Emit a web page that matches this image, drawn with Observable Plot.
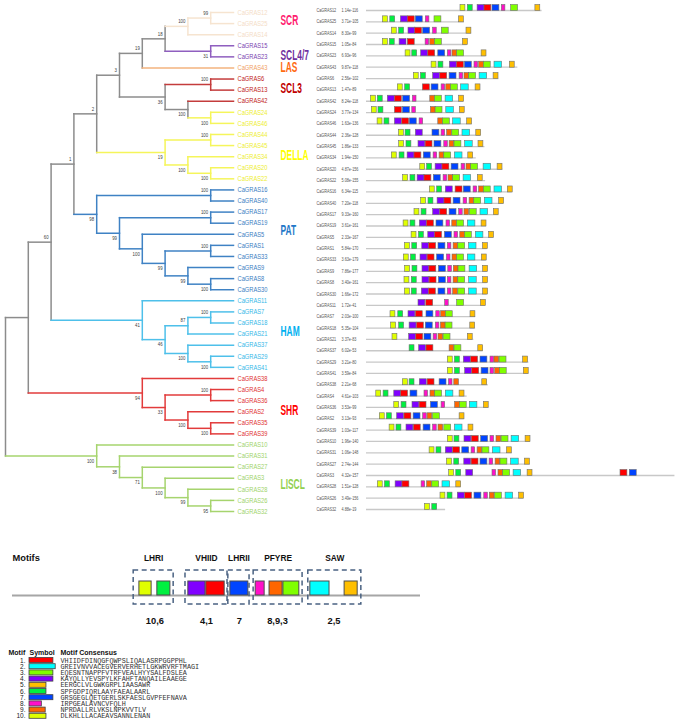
<!DOCTYPE html>
<html><head><meta charset="utf-8">
<script src="https://cdn.jsdelivr.net/npm/d3@7"></script>
<script src="https://cdn.jsdelivr.net/npm/@observablehq/plot@0.6"></script>
<style>
body{margin:0;background:#fff;}
#chart{position:relative;width:676px;height:725px;overflow:hidden;background:#fff;}
#chart svg{position:absolute;left:0;top:0;}
</style></head><body><div id="chart"></div>
<script>
// ---------------- DATA ----------------
// Tree (cladogram) with bootstrap values as internal node labels
const subSCL = "((((CaGRAS12,CaGRAS25)99,CaGRAS14)100,(CaGRAS15,CaGRAS23)31)18,CaGRAS43)19";
const subSCL3 = "((CaGRAS6,CaGRAS13)100,(CaGRAS42,(CaGRAS24,CaGRAS46)100)100)36";
const subDELLA = "((CaGRAS44,CaGRAS45)100,(CaGRAS34,(CaGRAS20,CaGRAS22)100)100)19";
const subPAT = "((CaGRAS16,CaGRAS40)100,((CaGRAS17,CaGRAS19)100,(CaGRAS5,((CaGRAS1,CaGRAS33)100,(CaGRAS9,(CaGRAS8,CaGRAS30)100)99)99)100)99)98";
const subHAM = "(CaGRAS11,(((CaGRAS7,CaGRAS18)100,CaGRAS21)87,(CaGRAS37,(CaGRAS29,CaGRAS41)100)100)46)41";
const subSHR = "(CaGRAS38,((CaGRAS4,CaGRAS36)100,(CaGRAS2,(CaGRAS35,CaGRAS39)100)100)33)94";
const subLISCL = "(CaGRAS10,(CaGRAS31,(CaGRAS27,(CaGRAS3,(CaGRAS28,(CaGRAS26,CaGRAS32)95)99)100)71)38)100";
const newick = `((((((${subSCL},${subSCL3})3,${subDELLA})2,${subPAT})1,${subHAM})60,${subSHR}),${subLISCL});`;

const cladeNames = ["SCR","SCL4/7","LAS","SCL3","DELLA","PAT","HAM","SHR","LISCL"];
const cladeMembers = [
  ["CaGRAS12","CaGRAS25","CaGRAS14"],
  ["CaGRAS15","CaGRAS23"],
  ["CaGRAS43"],
  ["CaGRAS6","CaGRAS13","CaGRAS42"],
  ["CaGRAS24","CaGRAS46","CaGRAS44","CaGRAS45","CaGRAS34","CaGRAS20","CaGRAS22"],
  ["CaGRAS16","CaGRAS40","CaGRAS17","CaGRAS19","CaGRAS5","CaGRAS1","CaGRAS33","CaGRAS9","CaGRAS8","CaGRAS30"],
  ["CaGRAS11","CaGRAS7","CaGRAS18","CaGRAS21","CaGRAS37","CaGRAS29","CaGRAS41"],
  ["CaGRAS38","CaGRAS4","CaGRAS36","CaGRAS2","CaGRAS35","CaGRAS39"],
  ["CaGRAS10","CaGRAS31","CaGRAS27","CaGRAS3","CaGRAS28","CaGRAS26","CaGRAS32"]
];
const cladeLabelRow = [0.72, 3.88, 4.96, 6.85, 12.9, 19.66, 28.76, 35.9, 42.56];

// Motif map
const proteinNames = ["CaGRAS12","CaGRAS25","CaGRAS14","CaGRAS15","CaGRAS23","CaGRAS43","CaGRAS6","CaGRAS13","CaGRAS42","CaGRAS24","CaGRAS46","CaGRAS44","CaGRAS45","CaGRAS34","CaGRAS20","CaGRAS22","CaGRAS16","CaGRAS40","CaGRAS17","CaGRAS19","CaGRAS5","CaGRAS1","CaGRAS33","CaGRAS9","CaGRAS8","CaGRAS30","CaGRAS11","CaGRAS7","CaGRAS18","CaGRAS21","CaGRAS37","CaGRAS29","CaGRAS41","CaGRAS38","CaGRAS4","CaGRAS36","CaGRAS2","CaGRAS39","CaGRAS10","CaGRAS31","CaGRAS27","CaGRAS3","CaGRAS28","CaGRAS26","CaGRAS32"];
const proteinEvalues = ["1.14e-116","3.71e-105","8.30e-99","1.05e-84","6.93e-96","9.87e-118","2.56e-102","1.47e-89","8.24e-118","3.77e-134","1.63e-136","2.36e-128","1.86e-133","1.94e-150","4.87e-156","5.08e-155","6.34e-115","7.20e-118","9.33e-160","3.61e-161","2.33e-167","5.84e-170","3.63e-179","7.86e-177","3.40e-161","1.66e-172","1.72e-41","2.03e-100","5.35e-104","3.37e-83","6.02e-53","3.21e-80","3.59e-84","2.21e-68","4.61e-103","3.53e-99","3.13e-93","1.03e-117","1.96e-140","1.06e-148","2.74e-144","4.32e-157","1.51e-128","3.49e-156","4.88e-19"];
const proteinLengths = [790,441,473,453,538,681,596,510,438,441,476,516,533,494,614,536,656,618,596,540,573,543,539,543,543,543,536,491,491,483,525,731,731,548,453,551,440,480,738,656,738,1388,426,708,356];
const motifHits = [
  [[10,423],[6,456],[4,500],[1,531],[7,567],[8,609],[3,651],[5,760]],
  [[10,74],[6,107],[4,155],[1,186],[7,222],[8,267],[3,306],[5,416]],
  [[10,114],[6,147],[4,189],[1,219],[7,255],[8,300],[3,339],[5,450]],
  [[10,74],[6,105],[4,149],[1,186],[8,266],[9,287],[3,308],[5,434]],
  [[10,176],[6,206],[4,246],[1,278],[7,323],[8,366],[9,387],[3,408],[5,518]],
  [[10,293],[6,324],[4,375],[1,407],[7,443],[8,486],[9,507],[3,528],[2,576],[5,645]],
  [[10,213],[6,245],[4,300],[1,332],[7,374],[8,419],[9,441],[3,462],[2,509],[5,572]],
  [[10,141],[6,174],[1,254],[7,293],[8,338],[9,359],[3,380],[2,426],[5,491]],
  [[10,20],[6,51],[4,96],[1,128],[7,165],[8,209],[9,287],[3,308],[2,356],[5,417]],
  [[10,24],[6,54],[1,128],[7,164],[8,206],[9,290],[3,311],[2,359],[5,420]],
  [[10,50],[6,81],[4,128],[1,161],[7,195],[8,239],[9,323],[3,344],[2,390],[5,453]],
  [[10,146],[6,176],[4,222],[7,297],[8,338],[9,363],[3,386],[2,432],[5,494]],
  [[10,147],[6,180],[4,234],[1,266],[7,306],[8,350],[9,374],[3,396],[2,444],[5,504]],
  [[10,114],[6,149],[4,185],[1,216],[7,258],[8,302],[9,329],[3,350],[2,398],[5,458]],
  [[10,242],[6,273],[4,311],[1,342],[7,383],[8,428],[9,450],[3,471],[2,527],[5,590]],
  [[10,165],[6,198],[4,230],[1,261],[7,303],[8,347],[9,369],[3,390],[2,437],[5,501]],
  [[10,285],[6,318],[4,357],[1,401],[7,438],[8,482],[9,507],[3,528],[2,576],[5,636]],
  [[10,246],[6,279],[4,320],[1,351],[7,392],[8,437],[9,464],[3,485],[2,533],[5,597]],
  [[10,216],[6,248],[4,300],[1,332],[7,374],[8,417],[9,441],[3,465],[2,513],[5,573]],
  [[10,167],[6,198],[4,240],[1,272],[7,315],[8,360],[9,386],[3,408],[2,456],[5,518]],
  [[10,203],[6,236],[4,278],[1,309],[7,353],[8,396],[9,422],[3,443],[2,492],[5,552]],
  [[10,173],[6,206],[4,251],[1,282],[7,324],[8,366],[9,392],[3,413],[2,461],[5,524]],
  [[10,168],[6,200],[4,243],[1,275],[7,318],[8,362],[9,387],[3,408],[2,456],[5,519]],
  [[10,174],[6,207],[4,252],[1,283],[7,326],[8,368],[9,393],[3,414],[2,464],[5,525]],
  [[10,171],[6,204],[4,252],[1,284],[7,326],[8,366],[9,392],[3,413],[2,462],[5,525]],
  [[10,173],[6,204],[4,249],[1,281],[7,324],[8,366],[9,390],[3,413],[2,462],[5,525]],
  [[4,234],[1,269],[8,354],[3,408],[5,515]],
  [[10,108],[6,143],[4,189],[1,222],[7,270],[8,314],[9,336],[3,357],[5,468]],
  [[10,111],[6,147],[4,194],[1,227],[7,267],[8,312],[9,335],[3,356],[5,467]],
  [[10,117],[4,192],[1,224],[7,261],[8,302],[9,324],[3,347],[5,456]],
  [[6,194],[4,237],[1,270],[9,374],[3,396],[5,503]],
  [[10,366],[6,398],[4,438],[1,471],[7,513],[8,558],[9,576],[3,599],[5,705]],
  [[10,366],[6,398],[4,444],[1,476],[7,518],[8,558],[9,579],[3,600],[5,708]],
  [[10,164],[6,194],[4,240],[1,275],[7,329],[8,371],[9,395],[5,521]],
  [[10,44],[6,77],[4,125],[1,156],[7,198],[8,261],[9,288],[3,309],[2,357],[5,419]],
  [[10,125],[6,158],[4,207],[1,239],[7,290],[8,338],[9,399],[3,420],[2,465],[5,528]],
  [[10,60],[6,92],[4,138],[1,171],[7,212],[8,255],[9,275],[3,299],[5,419]],
  [[10,104],[6,135],[4,180],[1,213],[7,257],[8,300],[9,324],[3,350],[2,398],[5,459]],
  [[10,366],[6,396],[4,441],[1,474],[7,516],[8,558],[9,585],[3,608],[2,653],[5,716]],
  [[10,284],[6,315],[4,357],[1,390],[7,431],[8,473],[9,500],[3,522],[2,569],[5,632]],
  [[10,362],[6,395],[4,440],[1,473],[7,513],[8,554],[9,581],[3,603],[2,651],[5,713]],
  [[10,372],[6,404],[4,449],[8,567],[9,594],[3,615],[2,662],[5,725],[1,1143],[7,1185]],
  [[10,51],[6,83],[4,131],[1,162],[8,248],[9,273],[3,296],[2,342],[5,404]],
  [[10,333],[6,365],[4,411],[1,444],[7,486],[8,530],[9,555],[3,578],[2,626],[5,687]],
  [[10,263],[6,296]]
];

// Motif legend
const motifIds = [1,2,3,4,5,6,7,8,9,10];
const motifConsensus = [
  "VHIIDFDINQGFQWPSLIQALASRPGGPPHL",
  "GREIVNVVACEGVERVERHETLGKWRVRFTMAGI",
  "EQESNTNAPPFVTRFVEALHYYSALFDSLEA",
  "KAYQLLYEVSPYLKFAHFTANQAILEAAEGE",
  "EERGCLVLGWKGRPLIAASAWR",
  "SPFGDPIQRLAAYFAEALAARL",
  "GRSGEGLQETGERLSKFAESLGVPFEFNAVA",
  "IRPGEALAVNCVFQLH",
  "NPRDALLRLVKSLNPKVVTLV",
  "DLKHLLLACAEAVSANNLENAN"
];

// Motif schematic (relative position along a generic GRAS protein, 0-100)
const schemeOrder = [10,6,4,1,7,8,9,3,2,5];
const schemeStart = [31.1,35.5,43.1,47.5,53.4,59.6,63.0,66.4,73.0,81.4];
const schemeEnd   = [34.1,38.7,47.3,52.0,57.8,61.8,66.2,70.3,77.7,84.6];
const domainNames  = ["LHRI","VHIID","LHRII","PFYRE","SAW"];
const domainMotifs = [[10,6],[4,1],[7],[8,9,3],[2,5]];
const domainStart  = [29.7,42.4,52.9,59.1,72.5];
const domainEnd    = [39.5,52.7,58.1,71.1,85.5];

// ---------------- STYLE ----------------
const motifColors = ["#ff0000","#00ffff","#80ff00","#8000ff","#ffbf00","#00f040","#0044ff","#ff10c8","#ff6600","#e0ff00"];
const cladeLabelColor = {"SCR":"#ff2070","SCL4/7":"#7030a0","LAS":"#ff6a10","SCL3":"#c00000","DELLA":"#ffff00","PAT":"#1f78c8","HAM":"#00b0f0","SHR":"#ff0000","LISCL":"#92d050"};
const cladeLeafColor  = {"SCR":"#f4dcc6","SCL4/7":"#7a3fb0","LAS":"#f0a064","SCL3":"#c01818","DELLA":"#eeee30","PAT":"#3a7ec2","HAM":"#35b8e8","SHR":"#e03030","LISCL":"#9ed36a"};
const cladeBranchColor= {"SCR":"#f6e4d0","SCL4/7":"#8f5fbf","LAS":"#f3b37e","SCL3":"#c43c3c","DELLA":"#f5f55a","PAT":"#3f82c4","HAM":"#4ec0ea","SHR":"#e23b3b","LISCL":"#a6d46e"};
const GRAY = "#8c8c8c";
const SANS = "Liberation Sans, Arial, sans-serif";

// ---------------- TREE LAYOUT ----------------
function parseNewick(s) {
  let i = 0;
  function node() {
    const n = {name: "", children: null};
    if (s[i] === "(") {
      i++; n.children = [];
      n.children.push(node());
      while (s[i] === ",") { i++; n.children.push(node()); }
      i++; // ')'
    }
    let name = "";
    while (i < s.length && !",();".includes(s[i])) name += s[i++];
    n.name = name;
    return n;
  }
  return node();
}
const cladeOf = {};
cladeMembers.forEach((m, k) => m.forEach(n => cladeOf[n] = cladeNames[k]));
const root = d3.hierarchy(parseNewick(newick), d => d.children);
const H = root.height;
let leafIndex = 0;
root.eachAfter(n => {
  if (!n.children) { n.row = leafIndex++; n.clade = cladeOf[n.data.name]; }
  else {
    n.row = d3.mean(n.children, c => c.row);
    const cs = new Set(n.children.map(c => c.clade));
    n.clade = (cs.size === 1 && !cs.has(null)) ? n.children[0].clade : null;
  }
  n.level = H - n.height;
});
const nodes = root.descendants();
const internal = nodes.filter(n => n.children);
const nonRoot = nodes.filter(n => n.parent);
const leaves = root.leaves();
const boot = internal.filter(n => n.data.name && n.parent);
const bootUpper = boot.filter(n => n.parent.children[0] === n);
const bootLower = boot.filter(n => n.parent.children[0] !== n);
const brColor = n => n.clade ? cladeBranchColor[n.clade] : GRAY;

const treeChart = Plot.plot({
  width: 676, height: 725,
  x: {domain: [0, H], range: [5, 233], axis: null},
  y: {domain: [0, leaves.length - 1], range: [12, 511], axis: null},
  color: {type: "identity"},
  style: {background: "transparent", overflow: "visible"},
  marks: [
    Plot.link(internal, {x1: "level", x2: "level", y1: n => n.children[0].row, y2: n => n.children[n.children.length - 1].row, stroke: brColor, strokeWidth: 1.5, strokeLinecap: "square"}),
    Plot.link(nonRoot, {x1: n => n.parent.level, x2: "level", y1: "row", y2: "row", stroke: brColor, strokeWidth: 1.5, strokeLinecap: "square"}),
    Plot.text(leaves, {x: "level", y: "row", text: n => n.data.name, textAnchor: "start", dx: 4, fill: n => cladeLeafColor[n.clade], fontSize: 7, fontFamily: SANS, ariaLabel: () => "shrink:0.82"}),
    Plot.text(bootUpper, {x: "level", y: "row", text: n => n.data.name, textAnchor: "end", dx: -2.5, dy: -5, fill: "#404040", fontSize: 5.3, fontFamily: SANS, ariaLabel: () => "shrink:0.82"}),
    Plot.text(bootLower, {x: "level", y: "row", text: n => n.data.name, textAnchor: "end", dx: -2.5, dy: 5, fill: "#404040", fontSize: 5.3, fontFamily: SANS, ariaLabel: () => "shrink:0.82"}),
    Plot.text(cladeNames, {x: H, y: (d, i) => cladeLabelRow[i], text: d => d, textAnchor: "start", dx: 47, fill: d => cladeLabelColor[d], fontSize: 14, fontWeight: "bold", fontFamily: SANS, ariaLabel: () => "shrink:0.6"})
  ]
});

// ---------------- MOTIF MAP ----------------
const motifLen = motifConsensus.map(s => s.length);
const protRows = proteinNames.map((name, i) => ({row: i, name, evalue: proteinEvalues[i], len: proteinLengths[i]}));
const hits = motifHits.flatMap((h, i) => h.map(([motif, start]) => ({row: i, motif, start, end: start + motifLen[motif - 1]})));

const motifChart = Plot.plot({
  width: 676, height: 725,
  x: {domain: [0, 1386], range: [366, 674], axis: null},
  y: {domain: [0, proteinNames.length - 1], range: [10, 509], axis: null},
  color: {type: "identity"},
  style: {background: "transparent", overflow: "visible"},
  marks: [
    Plot.ruleY(protRows, {y: "row", x1: 0, x2: "len", stroke: "#c8c8c8", strokeWidth: 1.3}),
    Plot.rect(hits, {x1: "start", x2: "end", y1: "row", y2: "row", insetTop: -5.5, insetBottom: -0.5, fill: d => motifColors[d.motif - 1], stroke: "#707070", strokeWidth: 0.6}),
    Plot.text(protRows, {x: 0, y: "row", text: "name", textAnchor: "start", dx: -50, fill: "#555", fontSize: 4.6, fontFamily: SANS, ariaLabel: () => "shrink:0.82"}),
    Plot.text(protRows, {x: 0, y: "row", text: "evalue", textAnchor: "start", dx: -25, fill: "#555", fontSize: 4.6, fontFamily: SANS, ariaLabel: () => "shrink:0.82"})
  ]
});

// ---------------- SCHEMATIC ----------------
const schemeBoxes = schemeOrder.map((m, i) => ({motif: m, x1: schemeStart[i], x2: schemeEnd[i]}));
const domains = domainNames.map((name, i) => {
  const members = schemeBoxes.filter(b => domainMotifs[i].includes(b.motif));
  return {name, x1: domainStart[i], x2: domainEnd[i], center: (domainStart[i] + domainEnd[i]) / 2,
          mcenter: (d3.min(members, b => b.x1) + d3.max(members, b => b.x2)) / 2, label: domainMotifs[i].join(",")};
});
const schemeChart = Plot.plot({
  width: 676, height: 725,
  x: {domain: [0, 100], range: [12, 420], axis: null},
  y: {domain: [0, 1], range: [595, 581], axis: null},
  color: {type: "identity"},
  style: {background: "transparent", overflow: "visible"},
  marks: [
    Plot.ruleY([0], {x1: 0, x2: 100, stroke: "#a6a6a6", strokeWidth: 2}),
    Plot.rect(domains, {x1: "x1", x2: "x2", y1: 0, y2: 1, insetTop: -11, insetBottom: -9, fill: "none", stroke: "#4a6282", strokeWidth: 1.5, strokeDasharray: "5,3.5"}),
    Plot.rect(schemeBoxes, {x1: "x1", x2: "x2", y1: 0, y2: 1, fill: d => motifColors[d.motif - 1], stroke: "#4d4d4d", strokeWidth: 1}),
    Plot.text(domains, {x: "center", y: 1, dy: -23, text: "name", fill: "#111", fontSize: 9.3, fontWeight: "bold", fontFamily: SANS, ariaLabel: () => "shrink:0.9"}),
    Plot.text(domains, {x: "mcenter", y: 0, dy: 26, text: "label", fill: "#111", fontSize: 9.3, fontWeight: "bold", fontFamily: SANS}),
    Plot.text(["Motifs"], {x: 0, y: 1, dy: -23, text: d => d, textAnchor: "start", fill: "#111", fontSize: 9.3, fontWeight: "bold", fontFamily: SANS})
  ]
});

// ---------------- LEGEND ----------------
const legendRows = motifIds.map((id, i) => ({id, seq: motifConsensus[i], len: motifLen[i]}));
const legendChart = Plot.plot({
  width: 676, height: 725,
  x: {domain: [0, 34], range: [29, 55.2], axis: null},
  y: {domain: [1, 10], range: [660, 715.8], axis: null},
  color: {type: "identity"},
  style: {background: "transparent", overflow: "visible"},
  marks: [
    Plot.rect(legendRows, {x1: 0, x2: "len", y1: "id", y2: "id", insetTop: -2.5, insetBottom: -2.5, fill: d => motifColors[d.id - 1], stroke: "#404040", strokeWidth: 0.8}),
    Plot.text(legendRows, {x: 0, y: "id", text: d => d.id + ".", textAnchor: "end", dx: -4, fill: "#222", fontSize: 6.5, fontFamily: SANS}),
    Plot.text(legendRows, {x: 0, y: "id", text: "seq", textAnchor: "start", dx: 31, fill: "#333", fontSize: 6.8, fontFamily: "Liberation Mono, Courier New, monospace"}),
    Plot.text(["Motif"], {x: 0, y: 1, dx: -21, dy: -8, text: d => d, textAnchor: "start", fill: "#111", fontSize: 7, fontWeight: "bold", fontFamily: SANS}),
    Plot.text(["Symbol"], {x: 0, y: 1, dx: 0, dy: -8, text: d => d, textAnchor: "start", fill: "#111", fontSize: 7, fontWeight: "bold", fontFamily: SANS}),
    Plot.text(["Motif Consensus"], {x: 0, y: 1, dx: 31, dy: -8, text: d => d, textAnchor: "start", fill: "#111", fontSize: 7, fontWeight: "bold", fontFamily: SANS})
  ]
});

const host = document.getElementById("chart");
[treeChart, motifChart, schemeChart, legendChart].forEach(s => host.appendChild(s));
host.querySelectorAll("text[aria-label^='shrink']").forEach(t => {
  const f = +t.getAttribute("aria-label").split(":")[1];
  const w = t.getComputedTextLength();
  if (w > 0) { t.setAttribute("textLength", (w * f).toFixed(2)); t.setAttribute("lengthAdjust", "spacingAndGlyphs"); }
});
</script></body></html>
